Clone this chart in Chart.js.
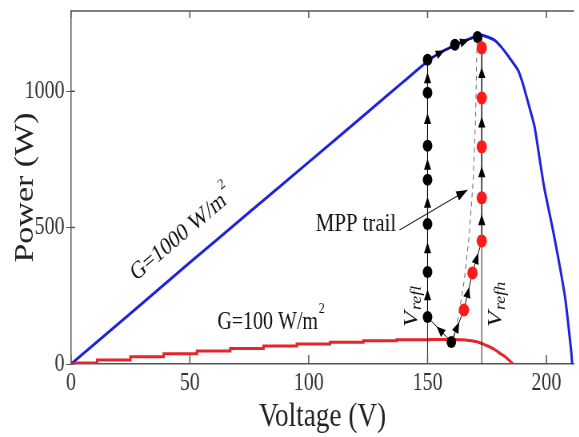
<!DOCTYPE html>
<html>
<head>
<meta charset="utf-8">
<script src="https://cdn.jsdelivr.net/npm/chart.js@4.4.1/dist/chart.umd.min.js"></script>
<style>
  html, body { margin: 0; padding: 0; background: #fff; }
  #wrap { width: 579px; height: 437px; overflow: hidden; }
  /* the reference is squeezed horizontally, so draw wide and squeeze */
  #chart { transform: scaleX(0.8); transform-origin: 0 0; }
</style>
</head>
<body>
<div id="wrap"><canvas id="chart" width="724" height="437"></canvas></div>
<script>
// P-V curve, G = 1000 W/m2
const blueV = [0, 25, 50, 75, 100, 125, 140, 150, 155, 160, 165, 170, 173, 178, 181, 184, 188, 190, 192, 195, 197, 199, 203, 206, 208, 210.5, 210.8];
const blueP = [0, 185, 372, 556, 740, 925, 1036, 1110, 1140, 1162, 1183, 1200, 1205, 1188, 1162, 1128, 1078, 1030, 968, 870, 760, 650, 480, 340, 235, 40, 0];

// P-V curve, G = 100 W/m2 (staircase part, then the knee)
const redStepV = [0, 4, 18, 32, 46, 60, 74, 88, 102, 116, 130, 144, 158];
const redStepP = [0, 4, 15, 27, 38, 48, 57, 66, 73, 80, 85, 89, 90];
const redKneeV = [158, 165, 169, 172, 175, 178, 181, 183, 186];
const redKneeP = [90, 89, 84, 78, 67, 54, 36, 24, 0];

// MPPT operating points
const lowTrailV = [160, 150, 150, 150, 150, 150, 150, 150, 161.5, 171];
const lowTrailP = [81, 172, 337, 513, 675, 800, 994, 1115, 1170, 1199];
const highTrailV = [160, 165.3, 168.9, 172.8, 172.8, 172.8, 172.8, 172.8];
const highTrailP = [81, 198, 334, 451, 609, 796, 975, 1159];

// dashed MPP trail
const mppV = [161, 163.5, 165.5, 167.5, 169.2, 170.2, 170.8];
const mppP = [90, 200, 310, 470, 675, 900, 1190];

// reference voltages
const vRefLow = 150;
const vRefHigh = 172.8;

const xTicks = [0, 50, 100, 150, 200];
const yTicks = [0, 500, 1000];

const xy = (vs, ps) => vs.map((v, i) => ({ x: v, y: ps[i] }));

function arrowHead(ctx, x, y, ang, len, half) {
  ctx.save();
  ctx.translate(x, y);
  ctx.rotate(ang);
  ctx.beginPath();
  ctx.moveTo(0, 0);
  ctx.lineTo(-len, -half);
  ctx.lineTo(-len, half);
  ctx.closePath();
  ctx.fill();
  ctx.restore();
}

const overlay = {
  id: 'overlay',
  afterDatasetsDraw(chart) {
    const { ctx, chartArea: a, scales: { x, y } } = chart;
    ctx.save();

    // top frame and inward tick marks
    ctx.strokeStyle = '#555';
    ctx.lineWidth = 1.5;
    ctx.beginPath();
    ctx.moveTo(a.left, a.top);
    ctx.lineTo(a.right, a.top);
    x.ticks.forEach(t => {
      const px = x.getPixelForValue(t.value);
      ctx.moveTo(px, a.bottom); ctx.lineTo(px, a.bottom - 9);
      ctx.moveTo(px, a.top); ctx.lineTo(px, a.top + 7);
    });
    y.ticks.forEach(t => {
      const py = y.getPixelForValue(t.value);
      ctx.moveTo(a.left, py); ctx.lineTo(a.left + 5, py);
    });
    ctx.stroke();

    // arrowheads along the operating point trails
    ctx.fillStyle = '#000';
    chart.data.datasets.forEach((ds, i) => {
      if (!ds.arrowAt) return;
      const pts = chart.getDatasetMeta(i).data;
      for (let k = 1; k < pts.length; k++) {
        const p0 = pts[k - 1], p1 = pts[k];
        const t = ds.arrowAt;
        arrowHead(ctx, p0.x + (p1.x - p0.x) * t, p0.y + (p1.y - p0.y) * t,
          Math.atan2(p1.y - p0.y, p1.x - p0.x), ds.arrowLen, ds.arrowHalf);
      }
    });

    // texts
    ctx.fillStyle = '#111';
    ctx.textBaseline = 'alphabetic';

    const supText = (main, sup, size, cx, cy, ang) => {
      ctx.save();
      ctx.translate(cx, cy);
      ctx.rotate(ang);
      ctx.font = size + 'px "Liberation Serif"';
      const w1 = ctx.measureText(main).width;
      ctx.font = Math.round(size * 0.6) + 'px "Liberation Serif"';
      const w2 = ctx.measureText(sup).width;
      const x0 = -(w1 + w2) / 2;
      ctx.font = size + 'px "Liberation Serif"';
      ctx.fillText(main, x0, size * 0.33);
      ctx.font = Math.round(size * 0.6) + 'px "Liberation Serif"';
      ctx.fillText(sup, x0 + w1 + 1, -size * 0.3);
      ctx.restore();
    };

    const slope = Math.atan2(y.getPixelForValue(1110) - y.getPixelForValue(0),
                             x.getPixelForValue(150) - x.getPixelForValue(0));
    supText('G=1000 W/m', '2', 25, x.getPixelForValue(46), y.getPixelForValue(478), slope);
    supText('G=100 W/m', '2', 25, x.getPixelForValue(84), y.getPixelForValue(158), 0);

    ctx.font = '26px "Liberation Serif"';
    ctx.textAlign = 'center';
    ctx.fillText('MPP trail', x.getPixelForValue(119.9), y.getPixelForValue(521) + 9);
    ctx.textAlign = 'left';

    const vref = (sub, v, p) => {
      ctx.save();
      ctx.translate(x.getPixelForValue(v), y.getPixelForValue(p));
      ctx.rotate(-Math.PI / 2);
      ctx.font = 'italic 26px "Liberation Serif"';
      ctx.fillText('V', 0, 8);
      const w = ctx.measureText('V').width;
      ctx.font = 'italic 18px "Liberation Serif"';
      ctx.fillText(sub, w + 1, 12);
      ctx.restore();
    };
    vref('refl', 143.2, 136);
    vref('refh', 178.6, 136);

    ctx.restore();
  }
};

const line = (data, color, width, extra) => Object.assign({
  data, showLine: true, borderColor: color, borderWidth: width,
  pointRadius: 0, fill: false, tension: 0
}, extra || {});

new Chart(document.getElementById('chart'), {
  type: 'scatter',
  data: {
    datasets: [
      line(xy(highTrailV, highTrailP), '#000', 1, {
        label: 'high trail', pointRadius: highTrailV.map((v, i) => i === 0 ? 0 : 6.5),
        pointBackgroundColor: '#ff1a1a', pointBorderWidth: 0,
        arrowAt: 0.62, arrowLen: 11, arrowHalf: 4.5
      }),
      line(xy(lowTrailV, lowTrailP), '#000', 1, {
        label: 'low trail', pointRadius: 6,
        pointBackgroundColor: '#000', pointBorderWidth: 0,
        arrowAt: 0.62, arrowLen: 11, arrowHalf: 4.5
      }),
      line(xy([138.2, 166.8], [491, 638]), '#222', 1.2, {
        label: 'pointer', arrowAt: 1, arrowLen: 14, arrowHalf: 5
      }),
      line(xy(mppV, mppP), '#666', 1, { label: 'mpp', borderDash: [5, 4] }),
      line(xy([vRefLow, vRefLow], [0, 1115]), '#222', 1, { label: 'vrefl' }),
      line(xy([vRefHigh, vRefHigh], [0, 1203]), '#222', 1, { label: 'vrefh' }),
      line(xy(redStepV, redStepP), '#e3262b', 3, { label: 'G100', stepped: 'middle' }),
      line(xy(redKneeV, redKneeP), '#e3262b', 3, { label: 'G100 knee', tension: 0.3 }),
      line(xy(blueV, blueP), '#1f22d8', 3, { label: 'G1000', tension: 0.2 })
    ]
  },
  options: {
    responsive: false,
    animation: false,
    devicePixelRatio: 1,
    layout: { padding: { top: 11, left: 0, right: 0, bottom: 0 } },
    plugins: { legend: { display: false }, tooltip: { enabled: false } },
    scales: {
      x: {
        type: 'linear', min: 0, max: 211.6,
        afterBuildTicks: s => { s.ticks = xTicks.map(v => ({ value: v })); },
        afterFit: s => { s.height = 73; s.paddingLeft = 0; s.paddingRight = 0; },
        ticks: { font: { family: 'Liberation Serif', size: 25 }, color: '#333', padding: 4, callback: v => String(v) },
        grid: { drawOnChartArea: false, drawTicks: false },
        border: { display: true, color: '#555', width: 1.5 },
        title: {
          display: true, text: 'Voltage (V)', color: '#222',
          font: { family: 'Liberation Serif', size: 34 }, padding: { top: 0, bottom: 0 }
        }
      },
      y: {
        type: 'linear', min: 0, max: 1294,
        afterBuildTicks: s => { s.ticks = yTicks.map(v => ({ value: v })); },
        afterFit: s => { s.width = 88.75; s.paddingTop = 0; s.paddingBottom = 0; },
        ticks: { font: { family: 'Liberation Serif', size: 25 }, color: '#333', padding: 2, callback: v => String(v) },
        grid: { drawOnChartArea: false, drawTicks: true, tickLength: 6, color: '#555' },
        border: { display: true, color: '#555', width: 1.5 },
        title: {
          display: true, text: 'Power (W)', color: '#222',
          font: { family: 'Liberation Serif', size: 34 }, padding: { top: 12, bottom: 0 }
        }
      }
    }
  },
  plugins: [overlay]
});
</script>
</body>
</html>
